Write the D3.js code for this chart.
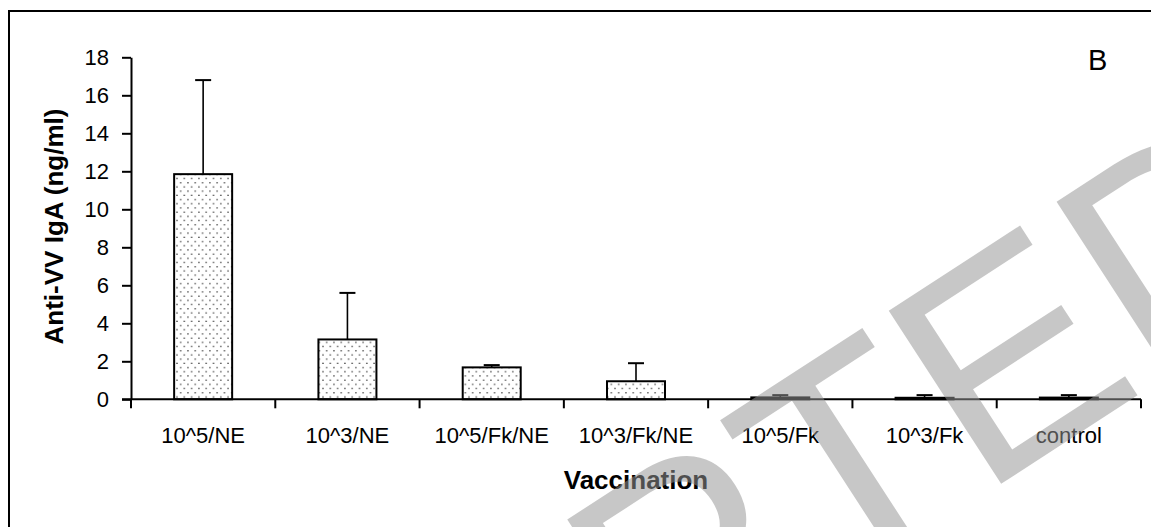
<!DOCTYPE html>
<html>
<head>
<meta charset="utf-8">
<script src="https://cdn.jsdelivr.net/npm/d3@7"></script>
<style>
  html, body { margin: 0; padding: 0; background: #fff; }
  svg { display: block; }
  text { font-family: "Liberation Sans", Arial, sans-serif; }
</style>
</head>
<body>
<svg id="chart" width="1151" height="527"></svg>
<script>
// Anti-VV IgA by vaccination group (mean and upper error)
const categories = ["10^5/NE", "10^3/NE", "10^5/Fk/NE", "10^3/Fk/NE", "10^5/Fk", "10^3/Fk", "control"];
const means      = [11.85, 3.15, 1.68, 0.95, 0.1, 0.08, 0.09];
const errors     = [4.95, 2.45, 0.12, 0.95, 0.12, 0.14, 0.13];
const yTicks     = [0, 2, 4, 6, 8, 10, 12, 14, 16, 18];

const svg = d3.select("#chart");
const W = 1151, H = 527;
const plot = { left: 131, right: 1141, top: 57.3, bottom: 399.3 };

// dotted fill for the bars
const defs = svg.append("defs");
const pat = defs.append("pattern")
  .attr("id", "dots")
  .attr("patternUnits", "userSpaceOnUse")
  .attr("width", 7.3).attr("height", 8.4);
pat.append("rect").attr("width", 7.3).attr("height", 8.4).attr("fill", "#fff");
pat.append("circle").attr("cx", 1.8).attr("cy", 2.1).attr("r", 0.8).attr("fill", "#444");
pat.append("circle").attr("cx", 5.45).attr("cy", 6.3).attr("r", 0.8).attr("fill", "#444");

// outer frame
svg.append("rect")
  .attr("x", 9).attr("y", 11)
  .attr("width", W + 20).attr("height", H + 20)
  .attr("fill", "#fff").attr("stroke", "#000").attr("stroke-width", 2);

const xTick = d3.scaleBand().domain(categories).range([plot.left, plot.right]);
const y = d3.scaleLinear().domain([0, 18]).range([plot.bottom, plot.top]);
const cx = d => xTick(d) + xTick.bandwidth() / 2;

const g = svg.append("g");

// bars
g.selectAll("rect.bar")
  .data(categories)
  .join("rect")
  .attr("class", "bar")
  .attr("x", d => cx(d) - 29)
  .attr("width", 58)
  .attr("y", (d, i) => y(means[i]))
  .attr("height", (d, i) => y(0) - y(means[i]))
  .attr("fill", "url(#dots)")
  .attr("stroke", "#000")
  .attr("stroke-width", 2);

// upper error bars
const eb = g.selectAll("g.err").data(categories).join("g").attr("class", "err");
eb.append("line")
  .attr("x1", cx).attr("x2", cx)
  .attr("y1", (d, i) => y(means[i]))
  .attr("y2", (d, i) => y(means[i] + errors[i]))
  .attr("stroke", "#000").attr("stroke-width", 1.6);
eb.append("line")
  .attr("x1", d => cx(d) - 8)
  .attr("x2", d => cx(d) + 8)
  .attr("y1", (d, i) => y(means[i] + errors[i]))
  .attr("y2", (d, i) => y(means[i] + errors[i]))
  .attr("stroke", "#000").attr("stroke-width", 2);

// y axis
const yAxis = g.append("g")
  .attr("transform", `translate(${plot.left},0)`)
  .call(d3.axisLeft(y).tickValues(yTicks).tickSize(9).tickPadding(13).tickSizeOuter(0));
yAxis.select(".domain").attr("stroke", "#000").attr("stroke-width", 2);
yAxis.selectAll(".tick line").attr("stroke", "#000").attr("stroke-width", 2);
yAxis.selectAll(".tick text")
  .attr("font-size", 22).attr("fill", "#000")
  .attr("font-family", "'Liberation Sans', Arial, sans-serif");

// x axis with ticks at band boundaries
const xAxis = g.append("g").attr("transform", `translate(0,${plot.bottom})`);
xAxis.append("line")
  .attr("x1", plot.left - 9).attr("x2", plot.right)
  .attr("y1", 0).attr("y2", 0)
  .attr("stroke", "#000").attr("stroke-width", 2);
const bounds = categories.map(d => xTick(d)).concat([plot.right]);
xAxis.selectAll("line.tk").data(bounds).join("line")
  .attr("class", "tk")
  .attr("x1", d => d).attr("x2", d => d)
  .attr("y1", 0).attr("y2", 9)
  .attr("stroke", "#000").attr("stroke-width", 2);
xAxis.selectAll("text.lbl").data(categories).join("text")
  .attr("class", "lbl")
  .attr("x", cx)
  .attr("y", 44)
  .attr("text-anchor", "middle")
  .attr("font-size", 22)
  .text(d => d);

// axis titles
svg.append("text")
  .attr("x", 636).attr("y", 489)
  .attr("text-anchor", "middle")
  .attr("font-size", 26).attr("font-weight", "bold")
  .text("Vaccination");
svg.append("text")
  .attr("transform", "translate(63,226.5) rotate(-90)")
  .attr("text-anchor", "middle")
  .attr("font-size", 26).attr("font-weight", "bold")
  .text("Anti-VV IgA (ng/ml)");

// panel letter
svg.append("text")
  .attr("x", 1088).attr("y", 69.5)
  .attr("font-size", 29)
  .text("B");

// diagonal manuscript stamp over the figure
svg.append("text")
  .attr("transform", "translate(-40,1160) rotate(-33)")
  .attr("font-size", 300)
  .attr("fill", "#969696")
  .attr("fill-opacity", 0.53)
  .text("ACCEPTED");
</script>
</body>
</html>
